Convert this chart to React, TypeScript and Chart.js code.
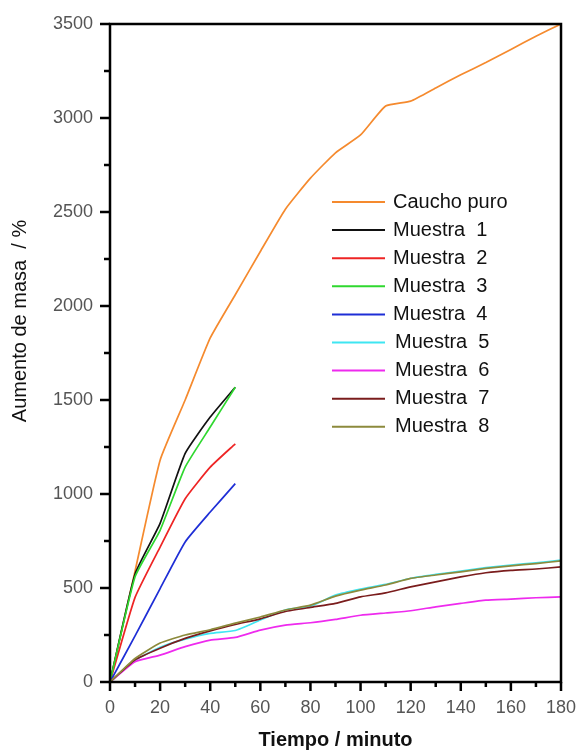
import React, { useEffect, useRef } from "react";
import { Chart, registerables } from "chart.js";

Chart.register(...registerables);

const timeShort = [0, 10, 20, 30, 40, 50];
const timeLong = [0, 10, 20, 30, 40, 50, 60, 70, 80, 90, 100, 110, 120, 130, 140, 150, 160, 170, 180];

const seriesLabels = [
  "Caucho puro",
  "Muestra  1",
  "Muestra  2",
  "Muestra  3",
  "Muestra  4",
  "Muestra  5",
  "Muestra  6",
  "Muestra  7",
  "Muestra  8",
];

const cauchoPuro = [0, 590, 1180, 1500, 1830, 2060, 2290, 2515, 2680, 2815, 2910, 3064, 3090, 3160, 3230, 3295, 3365, 3435, 3500];
const muestra1 = [0, 575, 844, 1216, 1409, 1568];
const muestra2 = [0, 450, 718, 975, 1143, 1267];
const muestra3 = [0, 560, 807, 1143, 1356, 1568];
const muestra4 = [0, 245, 497, 745, 904, 1055];
const muestra5 = [0, 115, 185, 228, 259, 274, 330, 383, 403, 462, 494, 519, 552, 572, 590, 608, 622, 634, 648];
const muestra6 = [0, 108, 143, 188, 223, 237, 276, 303, 315, 333, 355, 367, 379, 400, 418, 435, 441, 448, 453];
const muestra7 = [0, 118, 180, 232, 272, 306, 336, 375, 397, 418, 453, 474, 506, 533, 559, 581, 594, 601, 612];
const muestra8 = [0, 125, 207, 250, 278, 313, 346, 383, 409, 457, 489, 516, 551, 569, 586, 604, 618, 630, 644];

const seriesColors = ["#F58A2E", "#111111", "#EE2424", "#2FD82F", "#1E2ED6", "#3FE6F2", "#EE2AEE", "#7A1C1C", "#8C8A3C"];

const yTitle = "Aumento de masa  / %";
const xTitle = "Tiempo / minuto";

const FONT = "'Liberation Sans', Arial, sans-serif";

const decorPlugin = {
  id: "decor",
  afterDraw(chart: any) {
    const { ctx, chartArea } = chart;
    const xs = chart.scales.x;
    const ys = chart.scales.y;
    ctx.save();
    // frame
    ctx.strokeStyle = "#000";
    ctx.lineWidth = 2.5;
    ctx.strokeRect(chartArea.left, chartArea.top, chartArea.right - chartArea.left, chartArea.bottom - chartArea.top);
    // ticks
    ctx.beginPath();
    xs.ticks.forEach((t: any) => {
      const px = xs.getPixelForValue(t.value);
      const len = t.value % 20 === 0 ? 9 : 5;
      ctx.moveTo(px, chartArea.bottom);
      ctx.lineTo(px, chartArea.bottom + len);
    });
    ys.ticks.forEach((t: any) => {
      const py = ys.getPixelForValue(t.value);
      const len = t.value % 500 === 0 ? 10 : 6;
      ctx.moveTo(chartArea.left, py);
      ctx.lineTo(chartArea.left - len, py);
    });
    ctx.stroke();
    // y title
    ctx.translate(20, 321);
    ctx.rotate(-Math.PI / 2);
    ctx.fillStyle = "#111";
    ctx.font = `20px ${FONT}`;
    ctx.textAlign = "center";
    ctx.textBaseline = "middle";
    ctx.fillText(yTitle, 0, 0);
    ctx.restore();

    // legend
    ctx.save();
    ctx.font = `20px ${FONT}`;
    ctx.textAlign = "left";
    ctx.textBaseline = "middle";
    chart.data.datasets.forEach((ds: any, i: number) => {
      const y = 202 + i * 28.1;
      ctx.strokeStyle = ds.borderColor;
      ctx.lineWidth = 2;
      ctx.beginPath();
      ctx.moveTo(332, y);
      ctx.lineTo(385, y);
      ctx.stroke();
      ctx.fillStyle = "#111";
      ctx.fillText(ds.label, i >= 5 ? 395 : 393, y);
    });
    ctx.restore();
  },
};

export default function App() {
  const ref = useRef<HTMLCanvasElement | null>(null);

  useEffect(() => {
    if (!ref.current) return;
    const values = [cauchoPuro, muestra1, muestra2, muestra3, muestra4, muestra5, muestra6, muestra7, muestra8];
    const datasets = values.map((vals, i) => {
      const times = vals.length === timeShort.length ? timeShort : timeLong;
      return {
        label: seriesLabels[i],
        data: vals.map((v, j) => ({ x: times[j], y: v })),
        borderColor: seriesColors[i],
        backgroundColor: seriesColors[i],
        borderWidth: 1.7,
        pointRadius: 0,
        fill: false,
        tension: 0.15,
        order: -i,
      };
    });
    const chart = new Chart(ref.current, {
      type: "line",
      data: { datasets },
      options: {
        responsive: false,
        animation: false,
        devicePixelRatio: 1,
        layout: { padding: { left: 0, right: 18, top: 24, bottom: 0 } },
        plugins: { legend: { display: false }, tooltip: { enabled: false } },
        scales: {
          x: {
            type: "linear",
            min: 0,
            max: 180,
            grid: { display: false, drawTicks: false },
            border: { display: false },
            ticks: {
              stepSize: 10,
              autoSkip: false,
              maxRotation: 0,
              padding: 15,
              color: "#555",
              font: { family: FONT, size: 18 },
              callback: (v: any) => (Number(v) % 20 === 0 ? String(v) : ""),
            },
            title: {
              display: true,
              text: xTitle,
              color: "#111",
              font: { family: FONT, size: 20, weight: "bold" },
              padding: { top: 0, bottom: 0 },
            },
            afterFit: (s: any) => {
              s.height = 70;
              s.paddingLeft = 0;
              s.paddingRight = 0;
            },
          },
          y: {
            type: "linear",
            min: 0,
            max: 3500,
            grid: { display: false, drawTicks: false },
            border: { display: false },
            ticks: {
              stepSize: 250,
              autoSkip: false,
              padding: 17,
              color: "#555",
              font: { family: FONT, size: 18 },
              callback: (v: any) => (Number(v) % 500 === 0 ? String(v) : ""),
            },
            afterFit: (s: any) => {
              s.width = 110;
              s.paddingTop = 0;
              s.paddingBottom = 0;
            },
          },
        },
      },
      plugins: [decorPlugin],
    });
    return () => chart.destroy();
  }, []);

  return (
    <div style={{ position: "fixed", left: 0, top: 0, width: 579, height: 752, background: "#fff" }}>
      <canvas ref={ref} width={579} height={752} style={{ width: 579, height: 752, display: "block" }} />
    </div>
  );
}
